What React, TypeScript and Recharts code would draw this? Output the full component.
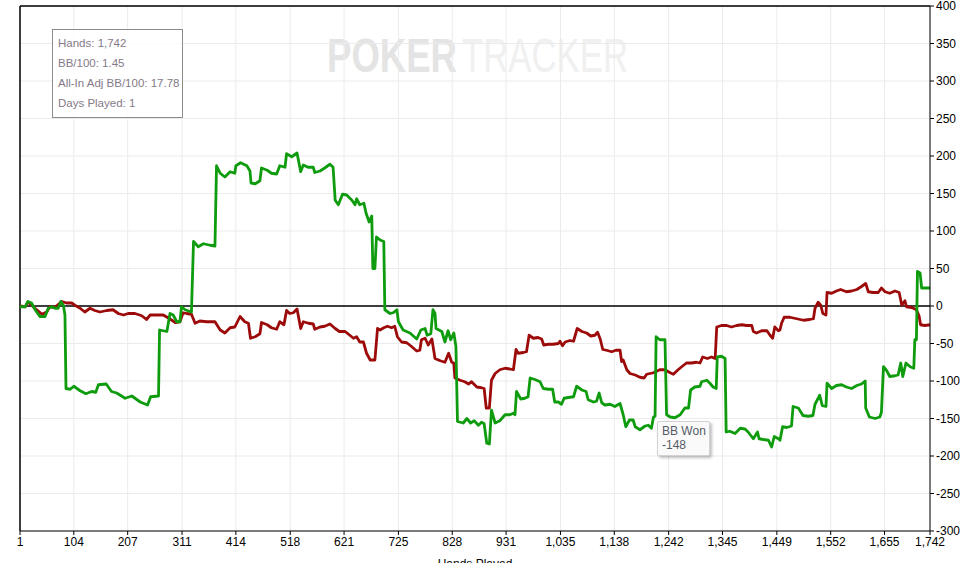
import React from 'react';
import {
  LineChart,
  Line,
  XAxis,
  YAxis,
  CartesianGrid,
  ReferenceLine,
} from 'recharts';

// hand number, big blinds won
const bbWon: [number, number][] = [
  [1, 0], [4, -1], [11, -1], [16, 6], [23, 4], [30, -5], [39, -14], [49, -14], [55, -3], [62, -1],
  [68, -3], [74, -3], [79, 6], [84, 1], [87, -12], [89, -110], [97, -111], [104, -107], [116, -113], [127, -117],
  [138, -114], [146, -115], [151, -105], [166, -104], [176, -114], [186, -116], [202, -123], [215, -120], [221, -123], [231, -128],
  [245, -132], [251, -121], [266, -120], [268, -32], [282, -34], [288, -10], [294, -12], [301, -21], [307, -21], [310, -1],
  [317, -5], [329, -8], [333, 86], [342, 79], [352, 83], [365, 81], [374, 80], [377, 187], [384, 177], [393, 172],
  [403, 179], [412, 177], [414, 187], [423, 191], [435, 187], [441, 180], [443, 164], [451, 163], [460, 167], [463, 184],
  [474, 181], [482, 177], [492, 176], [498, 187], [508, 185], [511, 203], [521, 199], [531, 204], [538, 179], [543, 188],
  [552, 185], [562, 185], [565, 178], [575, 180], [584, 184], [594, 189], [600, 185], [604, 141], [610, 135], [618, 149],
  [626, 148], [636, 141], [642, 135], [645, 143], [651, 135], [659, 137], [663, 124], [669, 112], [674, 120], [676, 50],
  [680, 50], [683, 92], [690, 88], [697, 86], [699, -5], [709, -10], [715, -9], [722, -5], [725, -21], [734, -32],
  [747, -36], [760, -44], [768, -32], [776, -30], [780, -39], [787, -37], [791, -5], [795, -10], [797, -30], [808, -34],
  [814, -48], [820, -33], [825, -45], [831, -36], [835, -54], [838, -154], [849, -156], [856, -150], [863, -156], [870, -153],
  [878, -159], [884, -155], [889, -157], [894, -183], [899, -184], [903, -139], [910, -156], [919, -153], [929, -145], [938, -145],
  [945, -143], [948, -145], [951, -114], [959, -124], [967, -123], [973, -121], [977, -96], [986, -98], [996, -101], [1002, -110],
  [1012, -111], [1020, -111], [1024, -128], [1031, -128], [1037, -131], [1042, -123], [1050, -122], [1060, -121], [1066, -107], [1076, -112],
  [1084, -114], [1088, -125], [1098, -128], [1104, -127], [1109, -116], [1114, -129], [1120, -132], [1130, -131], [1139, -134], [1149, -130],
  [1155, -145], [1160, -161], [1167, -152], [1174, -152], [1178, -161], [1187, -165], [1197, -160], [1203, -159], [1209, -163], [1213, -148],
  [1216, -147], [1218, -41], [1225, -45], [1235, -45], [1238, -145], [1245, -148], [1254, -149], [1264, -145], [1273, -136], [1280, -136],
  [1284, -112], [1292, -108], [1302, -107], [1305, -101], [1315, -99], [1321, -103], [1327, -108], [1333, -110], [1335, -68], [1343, -67],
  [1350, -70], [1352, -168], [1359, -167], [1369, -170], [1379, -163], [1388, -164], [1394, -168], [1404, -177], [1412, -168], [1415, -177],
  [1423, -178], [1433, -179], [1439, -188], [1444, -174], [1452, -177], [1455, -179], [1460, -161], [1468, -162], [1477, -160], [1480, -134],
  [1490, -136], [1499, -146], [1509, -147], [1518, -146], [1522, -131], [1531, -119], [1536, -133], [1543, -134], [1545, -103], [1554, -110],
  [1563, -106], [1573, -105], [1582, -108], [1592, -110], [1602, -106], [1611, -104], [1618, -100], [1619, -136], [1626, -148], [1637, -150],
  [1646, -148], [1649, -142], [1653, -81], [1659, -86], [1665, -94], [1675, -93], [1681, -92], [1686, -76], [1690, -94], [1696, -76],
  [1704, -81], [1711, -83], [1713, -45], [1716, -45], [1718, 46], [1723, 44], [1726, 24], [1736, 24], [1742, 24],
];

// hand number, all-in adjusted big blinds
const allInAdj: [number, number][] = [
  [1, 0], [11, -1], [16, 5], [23, 2], [26, -1], [33, -5], [43, -11], [52, -8], [58, -1], [68, -2],
  [74, 2], [81, 6], [90, 4], [100, 4], [106, 1], [116, -3], [125, -8], [135, -3], [144, -6], [154, -8],
  [167, -6], [179, -5], [189, -10], [199, -12], [208, -10], [221, -10], [234, -13], [243, -18], [250, -12], [262, -12],
  [275, -12], [285, -16], [298, -22], [307, -21], [313, -9], [320, -10], [329, -11], [336, -23], [345, -20], [358, -21],
  [374, -21], [384, -32], [393, -36], [403, -29], [412, -28], [422, -14], [431, -21], [438, -23], [442, -43], [451, -41],
  [460, -37], [463, -22], [474, -25], [482, -29], [492, -31], [498, -21], [506, -25], [511, -6], [517, -10], [524, -9],
  [531, -4], [538, -30], [543, -21], [553, -23], [562, -24], [565, -31], [575, -28], [584, -27], [594, -24], [604, -30],
  [612, -34], [623, -34], [632, -39], [639, -43], [645, -41], [651, -48], [658, -48], [664, -63], [671, -72], [680, -72],
  [685, -30], [690, -32], [697, -29], [704, -27], [712, -29], [718, -27], [723, -41], [731, -48], [741, -49], [750, -54],
  [760, -60], [766, -59], [769, -45], [776, -43], [782, -52], [789, -44], [795, -70], [805, -73], [814, -75], [821, -63],
  [827, -75], [831, -76], [833, -96], [843, -99], [852, -101], [859, -104], [865, -101], [875, -108], [884, -109], [889, -110],
  [893, -136], [899, -136], [903, -99], [910, -90], [919, -85], [929, -83], [938, -84], [945, -85], [950, -58], [954, -63],
  [964, -62], [970, -61], [975, -39], [983, -43], [992, -42], [999, -44], [1003, -52], [1012, -51], [1021, -51], [1031, -50],
  [1034, -47], [1039, -53], [1044, -48], [1053, -46], [1060, -47], [1067, -30], [1076, -34], [1085, -36], [1093, -40], [1101, -39],
  [1106, -35], [1111, -44], [1116, -58], [1123, -59], [1133, -61], [1141, -59], [1149, -59], [1152, -74], [1155, -72], [1162, -85],
  [1168, -90], [1178, -92], [1187, -95], [1195, -96], [1200, -91], [1213, -89], [1225, -85], [1235, -85], [1245, -89], [1251, -91],
  [1260, -85], [1267, -81], [1276, -76], [1286, -76], [1295, -75], [1302, -76], [1307, -68], [1316, -70], [1324, -68], [1331, -70],
  [1334, -28], [1343, -26], [1353, -26], [1362, -28], [1372, -26], [1382, -25], [1391, -26], [1401, -26], [1404, -34], [1410, -36],
  [1420, -33], [1430, -33], [1436, -39], [1441, -43], [1445, -28], [1452, -33], [1455, -32], [1458, -23], [1463, -15], [1474, -15],
  [1487, -17], [1500, -19], [1512, -18], [1519, -17], [1522, -3], [1528, 5], [1533, 1], [1537, -10], [1543, -12], [1545, 18],
  [1554, 17], [1563, 20], [1571, 22], [1582, 19], [1592, 20], [1602, 22], [1611, 26], [1619, 30], [1624, 19], [1633, 18],
  [1643, 18], [1649, 24], [1656, 19], [1665, 17], [1675, 20], [1683, 18], [1688, 1], [1694, 7], [1697, -1], [1707, -2],
  [1716, -5], [1721, -13], [1724, -25], [1732, -26], [1742, -25],
];

const handTicks = [1, 104, 207, 311, 414, 518, 621, 725, 828, 931, 1035, 1138, 1242, 1345, 1449, 1552, 1655, 1742];
const bbTicks = [-300, -250, -200, -150, -100, -50, 0, 50, 100, 150, 200, 250, 300, 350, 400];

const statLines = ['Hands: 1,742', 'BB/100: 1.45', 'All-In Adj BB/100: 17.78', 'Days Played: 1'];

const toRows = (pts: [number, number][]) => pts.map(([hand, bb]) => ({ hand, bb }));

const axisFont = { fill: '#000', fontSize: 12, fontFamily: '"Liberation Sans", Arial, sans-serif' };

export default function App() {
  return (
    <div style={{ position: 'absolute', left: 0, top: 0, width: 961, height: 563, background: '#fff', overflow: 'hidden' }}>
      {/* watermark */}
      <svg width={961} height={563} style={{ position: 'absolute', left: 0, top: 0 }}>
        <text x={327} y={72} fontSize={48} fontWeight="bold" fill="#e4e4e4"
          fontFamily='"Liberation Sans", Arial, sans-serif' textLength={130} lengthAdjust="spacingAndGlyphs">
          POKER
        </text>
        <text x={462} y={72} fontSize={48} fill="#f0f0f0"
          fontFamily='"Liberation Sans", Arial, sans-serif' textLength={166} lengthAdjust="spacingAndGlyphs">
          TRACKER
        </text>
      </svg>

      <div style={{ position: 'absolute', left: 0, top: 0 }}>
        <LineChart width={961} height={563} margin={{ top: 6, right: 0, bottom: 0, left: 20 }}>
          <CartesianGrid stroke="#ebebeb" />
          <XAxis
            dataKey="hand"
            type="number"
            domain={[1, 1742]}
            ticks={handTicks}
            interval={0}
            tickFormatter={(v: number) => v.toLocaleString('en-US')}
            tickSize={4}
            tick={axisFont}
            axisLine={{ stroke: '#000' }}
            tickLine={{ stroke: '#000' }}
            height={32}
            label={{ value: 'Hands Played', position: 'insideBottom', offset: -5, fill: '#000', fontSize: 12, fontFamily: '"Liberation Sans", Arial, sans-serif' }}
          />
          <YAxis
            orientation="right"
            type="number"
            domain={[-300, 400]}
            ticks={bbTicks}
            interval={0}
            width={31}
            tickSize={4}
            tick={axisFont}
            axisLine={{ stroke: '#000' }}
            tickLine={{ stroke: '#000' }}
          />
          <ReferenceLine y={400} stroke="#000" strokeWidth={1.5} />
          <ReferenceLine x={1} stroke="#000" strokeWidth={1.5} />
          <ReferenceLine y={0} stroke="#000" strokeWidth={1.3} />
          <Line
            data={toRows(allInAdj)}
            dataKey="bb"
            type="linear"
            stroke="#9c0a0a"
            strokeWidth={2.8}
            strokeLinejoin="round"
            dot={false}
            activeDot={false}
            isAnimationActive={false}
          />
          <Line
            data={toRows(bbWon)}
            dataKey="bb"
            type="linear"
            stroke="#0e9c0e"
            strokeWidth={2.8}
            strokeLinejoin="round"
            dot={false}
            activeDot={false}
            isAnimationActive={false}
          />
        </LineChart>
      </div>

      {/* stats box */}
      <div
        style={{
          position: 'absolute', left: 52, top: 29, width: 131, height: 89,
          border: '1px solid #8c8c8c', background: 'rgba(255,255,255,0.85)',
          fontFamily: '"Liberation Sans", Arial, sans-serif', fontSize: 11.5, color: '#847a88',
          padding: '3px 0 0 5px', boxSizing: 'border-box', lineHeight: '20px', whiteSpace: 'nowrap',
        }}
      >
        {statLines.map((s) => (
          <div key={s}>{s}</div>
        ))}
      </div>

      {/* hover label */}
      <div
        style={{
          position: 'absolute', left: 657, top: 421, width: 53, height: 35,
          border: '1px solid #d2d2d2', borderRadius: 2, background: '#fafafa',
          boxShadow: '2px 2px 3px rgba(0,0,0,0.25)', boxSizing: 'border-box',
          fontFamily: '"Liberation Sans", Arial, sans-serif', fontSize: 12, color: '#555a66',
          padding: '2px 0 0 4px', lineHeight: '14px',
        }}
      >
        <div>BB Won</div>
        <div>-148</div>
      </div>
    </div>
  );
}
